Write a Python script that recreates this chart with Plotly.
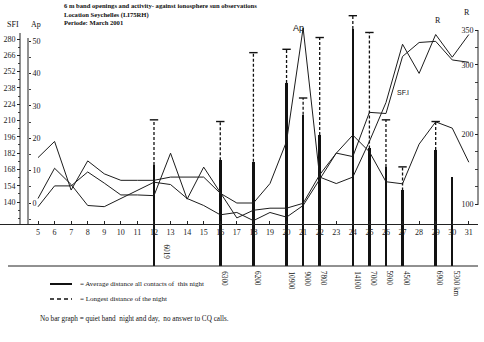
import plotly.graph_objects as go

W, H = 484, 342

# Daily values, March 2001
days = list(range(5, 32))
sfi = [143, 169, 155, 137, 136, 143, 150, 157, 155, 143, 137, 129, 131, 124,
       131, 127, 137, 159, 182, 179, 217, 216, 265, 277, 278, 262, 260]
ap = [14, 19, 4, 13, 9, 7, 7, 7, 8, 8, 8, 3, 0, 0,
      6, 19, 54, 8, 6, 8, 19, 31, 49, 40, 52, 45, 52]
ssn = [96, 126, 126, 146, 130, 113, 113, 112, 173, 107, 153, 117, 80, 91,
       94, 94, 101, 142, 173, 199, 175, 132, 129, 186, 218, 209, 160]

# 6 m openings: average and longest distance per night (km)
bar_days = [12, 16, 18, 20, 21, 22, 24, 25, 26, 27, 29, 30]
avg_km = [6019, 6300, 6200, 10900, 9000, 7800, 14100, 7000, 5900, 4500, 6900, 5300]
max_km = [8700, 8600, 12700, 12900, 10000, 13600, 14900, 13900, 8700, 5900, 8600, None]

sfi_ticks = list(range(140, 281, 14))
ap_ticks = [0, 10, 20, 30, 40, 50]
r_ticks = [100, 200, 300, 350]

SERIF = "Liberation Serif"
INK = "#1c1c1c"


def px(x):
    return x / W


def py(y):
    return 1 - y / H


fig = go.Figure()

# average distance bars
fig.add_trace(go.Bar(x=bar_days, y=avg_km, width=0.15, marker=dict(color="#111", line=dict(width=0)),
                     xaxis="x", yaxis="y", showlegend=False))

# longest distance: dashed extension with a cap
dx, dy, cx, cy = [], [], [], []
for d, a, m in zip(bar_days, avg_km, max_km):
    if m is None:
        continue
    dx += [d, d, None]
    dy += [a, m, None]
    cx.append(d)
    cy.append(m)
fig.add_trace(go.Scatter(x=dx, y=dy, mode="lines", line=dict(color="#111", width=1.3, dash="3px,2px"),
                         xaxis="x", yaxis="y", showlegend=False, hoverinfo="skip"))
fig.add_trace(go.Scatter(x=cx, y=cy, mode="markers",
                         marker=dict(symbol="line-ew", size=6, line=dict(color="#111", width=1.4)),
                         xaxis="x", yaxis="y", showlegend=False))

# solar / geomagnetic curves
fig.add_trace(go.Scatter(x=days, y=sfi, mode="lines", line=dict(color=INK, width=1),
                         xaxis="x", yaxis="y2", showlegend=False))
fig.add_trace(go.Scatter(x=days, y=ap, mode="lines", line=dict(color=INK, width=1),
                         xaxis="x", yaxis="y3", showlegend=False))
fig.add_trace(go.Scatter(x=days, y=ssn, mode="lines", line=dict(color=INK, width=1),
                         xaxis="x", yaxis="y4", showlegend=False))

# axis geometry (pixels)
X_LEFT, X_RIGHT = 0, 478
Y_TOP, Y_BASE, Y_DAYS = 10, 266, 224
DAY0_PX, DAY_PX = 38, 16.57
KM_PX = 0.0168
SFI_Y280, SFI_Y140 = 39, 202
AP_Y0, AP_PX = 203, 3.24
R_Y100, R_PX = 204, 0.696


def day_at(xp):
    return 5 + (xp - DAY0_PX) / DAY_PX


def sfi_at(yp):
    return 140 + (SFI_Y140 - yp) * 140 / (SFI_Y140 - SFI_Y280)


def ap_at(yp):
    return (AP_Y0 - yp) / AP_PX


def r_at(yp):
    return 100 + (R_Y100 - yp) / R_PX


tickfont = dict(family=SERIF, size=8, color="#222")
ydom = [py(Y_BASE), py(Y_TOP)]

# minor ticks only along the drawn part of each vertical axis
sfi_minor = [v for v in range(126, 286, 7) if v not in sfi_ticks]
ap_minor = [-5, 5, 15, 25, 35, 45]
r_minor = [125, 150, 175, 225, 250, 275, 325]

fig.update_layout(
    width=W, height=H, margin=dict(l=0, r=0, t=0, b=0),
    paper_bgcolor="white", plot_bgcolor="white",
    bargap=0,
    xaxis=dict(domain=[px(X_LEFT), px(X_RIGHT)], range=[day_at(X_LEFT), day_at(X_RIGHT)],
               anchor="free", position=py(Y_DAYS), side="bottom",
               showline=True, linecolor="#222", linewidth=1, showgrid=False, zeroline=False,
               tickvals=days, ticks="inside", ticklen=3, tickcolor="#222", tickfont=tickfont),
    yaxis=dict(domain=ydom, range=[0, (Y_BASE - Y_TOP) / KM_PX], visible=False, anchor="x"),
    yaxis2=dict(overlaying="y", anchor="free", position=px(20), side="left",
                range=[sfi_at(Y_BASE), sfi_at(Y_TOP)], tickvals=sfi_ticks, ticks="outside",
                ticklen=3, tickcolor="#222", tickfont=tickfont, showgrid=False, zeroline=False,
                showline=False,
                minor=dict(tickmode="array", tickvals=sfi_minor, ticks="outside", ticklen=2,
                           tickcolor="#444")),
    yaxis3=dict(overlaying="y", anchor="free", position=px(28), side="right",
                range=[ap_at(Y_BASE), ap_at(Y_TOP)], tickvals=ap_ticks, ticks="outside",
                ticklen=2, tickcolor="#222", tickfont=tickfont, showgrid=False, zeroline=False,
                showline=False,
                minor=dict(tickmode="array", tickvals=ap_minor, ticks="outside", ticklen=2,
                           tickcolor="#444")),
    yaxis4=dict(overlaying="y", anchor="free", position=px(478), side="left",
                range=[r_at(Y_BASE), r_at(Y_TOP)], tickvals=r_ticks, ticks="outside",
                ticklen=3, tickcolor="#222", tickfont=tickfont, showgrid=False, zeroline=False,
                showline=False,
                minor=dict(tickmode="array", tickvals=r_minor, ticks="outside", ticklen=3,
                           tickcolor="#444")),
)

line_style = dict(color="#222", width=1)
shapes = [
    # baseline of the distance bars
    dict(type="line", xref="paper", yref="paper", x0=px(8), x1=px(478), y0=py(Y_BASE), y1=py(Y_BASE),
         line=line_style),
    # vertical axis lines
    dict(type="line", xref="paper", yref="paper", x0=px(20), x1=px(20), y0=py(Y_DAYS), y1=py(33),
         line=line_style),
    dict(type="line", xref="paper", yref="paper", x0=px(28), x1=px(28), y0=py(Y_DAYS), y1=py(38),
         line=line_style),
    dict(type="line", xref="paper", yref="paper", x0=px(478), x1=px(478), y0=py(205), y1=py(30),
         line=line_style),
    # legend samples
    dict(type="line", xref="paper", yref="paper", x0=px(50), x1=px(72), y0=py(284), y1=py(284),
         line=dict(color="#111", width=2)),
    dict(type="line", xref="paper", yref="paper", x0=px(50), x1=px(72), y0=py(299), y1=py(299),
         line=dict(color="#111", width=1.4, dash="4px,3px")),
]
fig.update_layout(shapes=shapes)

ann = []


def text(x, y, s, size=7, bold=False, family=SERIF, xanchor="left", yanchor="middle", angle=0):
    ann.append(dict(xref="paper", yref="paper", x=px(x), y=py(y), text=f"<b>{s}</b>" if bold else s,
                    showarrow=False, xanchor=xanchor, yanchor=yanchor, textangle=angle, align="left",
                    font=dict(family=family, size=size, color="#111")))


text(62, 0, "<b>6 m band openings and activity- against ionosphere sun observations</b><br>"
            "<b>Location Seychelles (LI75RH)</b><br><b>Periode: March 2001</b>",
     6.6, yanchor="top")

text(13, 25, "SFI", 8, xanchor="center")
text(36, 25, "Ap", 8, xanchor="center")
text(467, 13, "R", 8, xanchor="center")
text(438, 21, "R", 8, xanchor="center")
text(298, 28, "Ap", 9, family="Liberation Sans", xanchor="center")
text(403, 93, "SF.I", 7, family="Liberation Sans", xanchor="center")

text(78, 284, "= Average distance all contacts of  this night", 7)
text(78, 299, "= Longest distance of the night", 7)
text(38, 319, "No bar graph = quiet band  night and day,  no answer to CQ calls.", 7.2)

# distance labels under each bar
for i, (d, a) in enumerate(zip(bar_days, avg_km)):
    label = f"{a} km" if i == len(avg_km) - 1 else f"{a}"
    above = i == 0
    ann.append(dict(xref="x", yref="paper", x=d, y=py(262 if above else 269), text=label,
                    showarrow=False, textangle=90, xanchor="center",
                    yanchor="bottom" if above else "top", xshift=(13 if above else 4),
                    font=dict(family=SERIF, size=7.2, color="#111")))

fig.update_layout(annotations=ann)
fig.write_html("out.html")
